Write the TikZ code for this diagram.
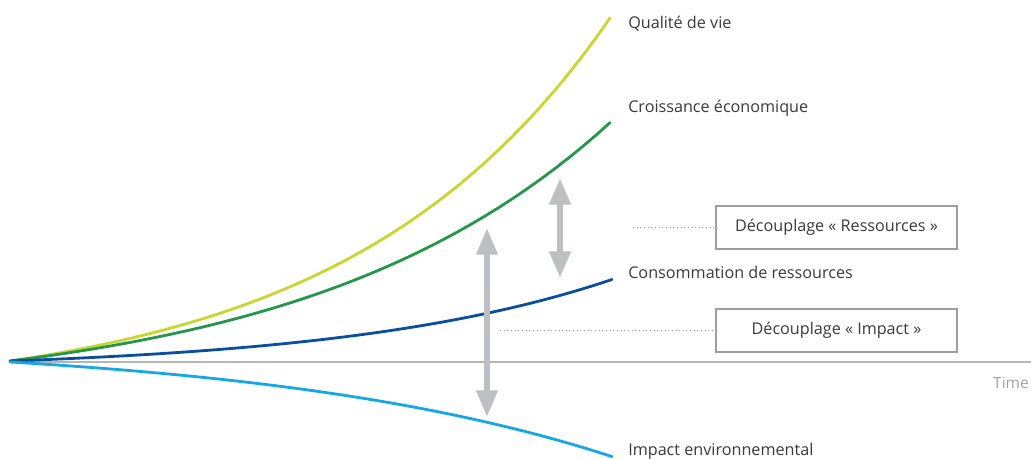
\documentclass[tikz,border=0pt]{standalone}
\usepackage{fontspec}
\setmainfont{Open Sans}
\usetikzlibrary{positioning,arrows.meta,calc}
\definecolor{vie}{HTML}{C8D730}
\definecolor{croissance}{HTML}{26964A}
\definecolor{ressource}{HTML}{0B4F9C}
\definecolor{impact}{HTML}{17A8E3}
\definecolor{fleche}{HTML}{BEBFC3}
\definecolor{axe}{HTML}{B5B5B5}
\definecolor{cadre}{HTML}{9E9E9E}
\definecolor{texte}{HTML}{3A3A3A}
\tikzstyle{curvelabel}=[anchor=west, inner sep=0pt, text=texte, font=\fontsize{11.5}{13}\selectfont]
\tikzstyle{decouple}=[rectangle, draw=cadre, line width=1.4pt, minimum width=241*0.025cm, minimum height=43*0.025cm, text=texte, font=\fontsize{11.5}{13}\selectfont, inner sep=0pt]
\tikzstyle{curve}=[line width=2pt, line cap=round]
\tikzstyle{myarrow}=[fleche, line width=4.3pt, {Triangle[width=14.5pt,length=19pt]}-{Triangle[width=14.5pt,length=19pt]}]
\tikzstyle{guide}=[cadre, line width=0.6pt, dotted]

\begin{document}
\begin{tikzpicture}[x=0.025cm, y=-0.025cm]
    \useasboundingbox (0,0) rectangle (1031,459);

        % axis
        \coordinate (origin) at (10,362);
        \coordinate (axisend) at (1031,362);
        \draw[axe, line width=1.3pt] (origin) -- (axisend);
        \node (time) [anchor=east, inner sep=0pt, text=axe!90!black, font=\fontsize{11}{13}\selectfont] at (1029,383) {Time};

        % curves
        \draw[curve, vie] plot[domain=10:610, samples=120] (\x, {361-39.1*(exp(0.0038*(\x-10))-1)});
        \draw[curve, croissance] plot[domain=10:610, samples=120] (\x, {361-38.3*(exp(0.0033*(\x-10))-1)});
        \draw[curve, ressource] plot[domain=10:612, samples=120] (\x, {361-9.9*(exp(0.0037*(\x-10))-1)});
        \draw[curve, impact] plot[domain=10:612, samples=120] (\x, {362+21.4*(exp(0.0028*(\x-10))-1)});

        % labels
        \node (qualite) [curvelabel] at (628,24) {Qualité de vie};
        \node (economie) [curvelabel] at (628,108) {Croissance économique};
        \node (consommation) [curvelabel] at (628,272) {Consommation de ressources};
        \node (environnement) [curvelabel] at (628,451) {Impact environnemental};

        % decoupling boxes
        \node (ressources) [decouple] at (836.5,227.5) {Découplage « Ressources »};
        \node (impactbox) [decouple] at (836.5,330.5) {Découplage « Impact »};

        \coordinate (ressdot) at (633,227.5);
        \coordinate (impdot) at (500,330.5);
        \draw[guide] (ressdot) -- (ressources.west);
        \draw[guide] (impdot) -- (impactbox.west);

        %Arrows
        \coordinate (imptop) at (487,228);
        \coordinate (impbot) at (487,417);
        \coordinate (restop) at (560,178);
        \coordinate (resbot) at (560,278);
        \draw[myarrow] (imptop) -- (impbot);
        \draw[myarrow] (restop) -- (resbot);

\end{tikzpicture}
\end{document}
